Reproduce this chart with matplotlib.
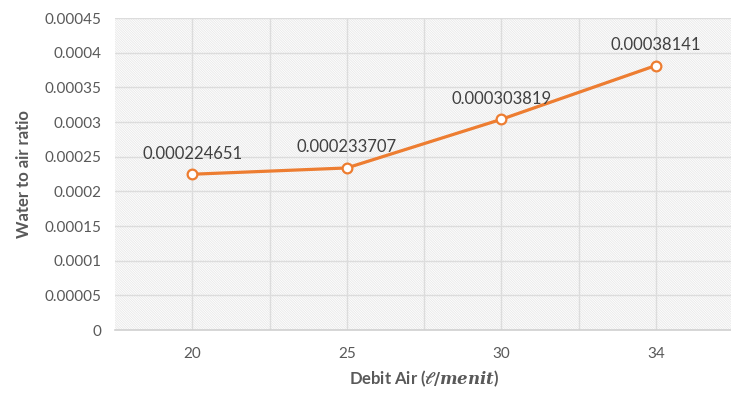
import matplotlib.pyplot as plt

plt.rcParams['font.family'] = ['Lato', 'DejaVu Sans']
plt.rcParams['hatch.color'] = '#e8e8e8'
plt.rcParams['hatch.linewidth'] = 0.6
plt.rcParams['mathtext.fontset'] = 'dejavuserif'

debit = ['20', '25', '30', '34']
ratio = [0.000224651, 0.000233707, 0.000303819, 0.00038141]
labels = ['0.000224651', '0.000233707', '0.000303819', '0.00038141']
yticks = [0, 0.00005, 0.0001, 0.00015, 0.0002, 0.00025, 0.0003, 0.00035, 0.0004, 0.00045]
ytick_labels = ['0', '0.00005', '0.0001', '0.00015', '0.0002', '0.00025',
                '0.0003', '0.00035', '0.0004', '0.00045']

fig = plt.figure(figsize=(7.31, 3.94), dpi=100)
ax = fig.add_axes([115/731, 64/394, 618/731, 312/394])

xs = range(len(debit))
ax.set_xlim(-0.5, len(debit) - 0.5)
ax.set_ylim(0, 0.00045)

# hatched background
ax.patch.set_facecolor('white')
ax.fill_between([-0.5, len(debit) - 0.5], 0, 0.00045, facecolor='white',
                hatch='\\' * 14, edgecolor='#e8e8e8', linewidth=0, zorder=0)

for y in yticks[1:]:
    ax.axhline(y, color='#dcdcdc', lw=1, zorder=1)
for i in range(len(debit) * 2 - 1):
    ax.axvline(-0.5 + 0.5 * (i + 1), color='#dcdcdc', lw=1, zorder=1)

ax.plot(xs, ratio, color='#ed7d31', lw=2.3, marker='o', markersize=7,
        markerfacecolor='white', markeredgecolor='#ed7d31', markeredgewidth=1.6, zorder=3)

for x, y, t in zip(xs, ratio, labels):
    ax.annotate(t, (x, y), xytext=(0, 9), textcoords='offset points',
                ha='center', va='bottom', fontsize=12, color='#404040', zorder=4)

for s in ['top', 'right', 'left']:
    ax.spines[s].set_visible(False)
ax.spines['bottom'].set_color('#d0d0d0')
ax.spines['bottom'].set_linewidth(1.2)

ax.set_xticks(list(xs))
ax.set_xticklabels(debit)
ax.set_yticks(yticks)
ax.set_yticklabels(ytick_labels)
ax.tick_params(length=0, labelsize=11, colors='#595959')
ax.tick_params(axis='x', pad=12)
ax.tick_params(axis='y', pad=10)

ax.set_xlabel(r'Debit Air ($\boldsymbol{\ell/menit}$)', fontsize=12,
              fontweight='bold', color='#595959', labelpad=6)
ax.set_ylabel('Water to air ratio', fontsize=12, fontweight='bold',
              color='#595959', labelpad=9)

fig.savefig('out.png', dpi=100)
